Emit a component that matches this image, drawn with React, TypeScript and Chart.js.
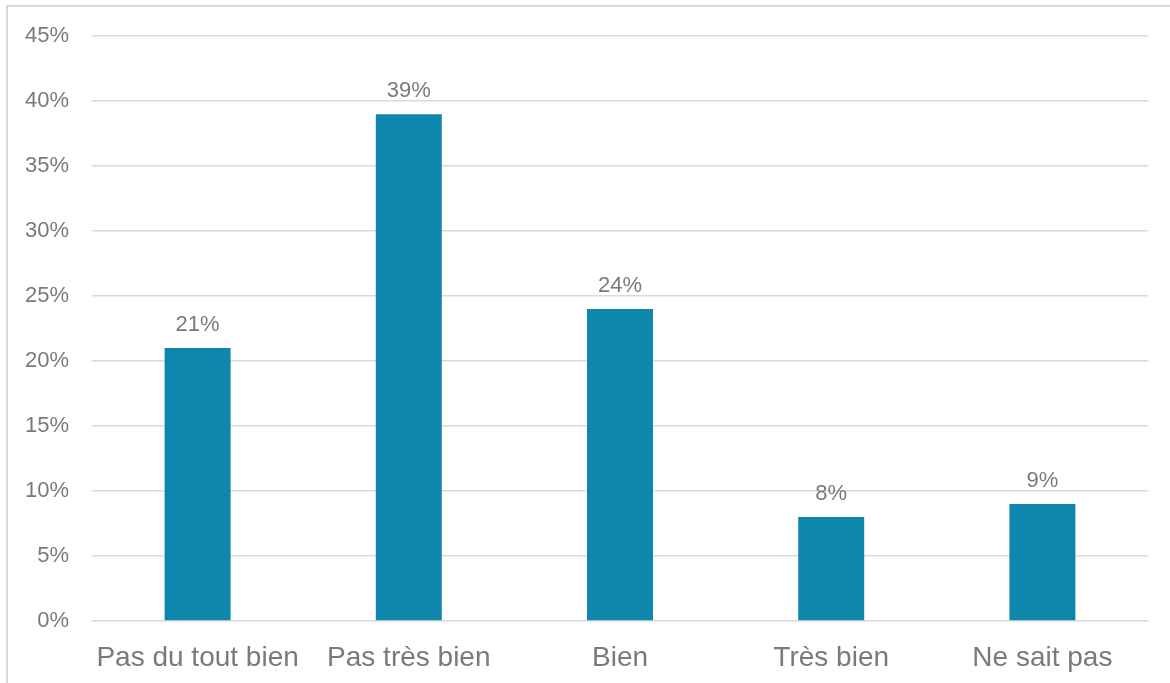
import React, { useEffect, useRef } from "react";
import { Chart, registerables } from "chart.js";

Chart.register(...registerables);

const categories = ["Pas du tout bien", "Pas très bien", "Bien", "Très bien", "Ne sait pas"];
const values = [21, 39, 24, 8, 9];
const yTicks = [0, 5, 10, 15, 20, 25, 30, 35, 40, 45];

const FONT = "'Liberation Sans', Arial, sans-serif";
const TEXT = "#7a7a7a";
const GRID = "#d9d9d9";
const BAR = "#0F86AC";

const dataLabels = {
  id: "dataLabels",
  afterDatasetsDraw(chart: any) {
    const ctx = chart.ctx;
    const meta = chart.getDatasetMeta(0);
    ctx.save();
    ctx.font = `22px ${FONT}`;
    ctx.fillStyle = TEXT;
    ctx.textAlign = "center";
    ctx.textBaseline = "alphabetic";
    meta.data.forEach((bar: any, i: number) => {
      ctx.fillText(`${values[i]}%`, bar.x, bar.y - 17);
    });
    ctx.restore();
  },
};

export default function App() {
  const ref = useRef<HTMLCanvasElement>(null);
  useEffect(() => {
    if (!ref.current) return;
    const chart = new Chart(ref.current, {
      type: "bar",
      data: {
        labels: categories,
        datasets: [
          {
            data: values,
            backgroundColor: BAR,
            categoryPercentage: 1,
            barPercentage: 0.3125,
          },
        ],
      },
      options: {
        animation: false,
        responsive: false,
        maintainAspectRatio: false,
        layout: { padding: { left: 0, right: 22, top: 35, bottom: 0 } },
        plugins: { legend: { display: false }, tooltip: { enabled: false } },
        scales: {
          x: {
            grid: { display: false },
            border: { display: false },
            ticks: {
              color: TEXT,
              font: { family: FONT, size: 28 },
              padding: 12,
              maxRotation: 0,
              autoSkip: false,
            },
            afterFit: (s: any) => {
              s.height = 62;
            },
          },
          y: {
            min: 0,
            max: 45,
            afterBuildTicks: (s: any) => {
              s.ticks = yTicks.map((v) => ({ value: v }));
            },
            grid: { color: GRID, lineWidth: 1.5, drawTicks: false },
            border: { display: false },
            ticks: {
              color: TEXT,
              font: { family: FONT, size: 22 },
              padding: 23,
              callback: (v: any) => `${v}%`,
            },
            afterFit: (s: any) => {
              s.width = 92;
            },
          },
        },
      },
      plugins: [dataLabels],
    });
    return () => chart.destroy();
  }, []);
  return (
    <div
      style={{
        position: "absolute",
        left: 0,
        top: 0,
        width: 1170,
        height: 683,
        overflow: "hidden",
        background: "#fff",
      }}
    >
      <div
        style={{
          position: "absolute",
          left: 6,
          top: 5,
          width: 1300,
          height: 800,
          border: `2px solid ${GRID}`,
          boxSizing: "border-box",
        }}
      />
      <canvas
        ref={ref}
        width={1170}
        height={683}
        style={{ position: "absolute", left: 0, top: 0, width: 1170, height: 683 }}
      />
    </div>
  );
}
